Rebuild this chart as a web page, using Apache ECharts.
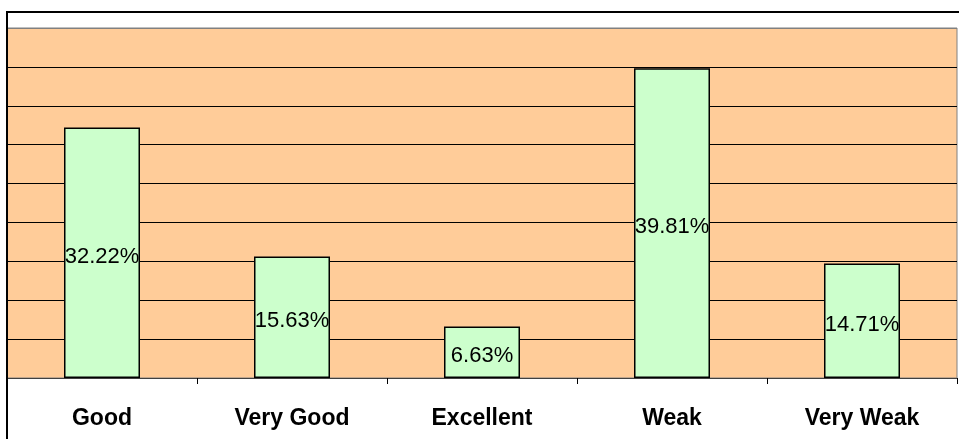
<!DOCTYPE html>
<html>
<head>
<meta charset="utf-8">
<script src="https://cdn.jsdelivr.net/npm/echarts@6/dist/echarts.min.js"></script>
<style>
  html, body { margin: 0; padding: 0; background: #fff; }
  #chart { width: 959px; height: 439px; }
</style>
</head>
<body>
<div id="chart"></div>
<script>
// data
const categories = ["Good", "Very Good", "Excellent", "Weak", "Very Weak"];
const percentValues = [32.22, 15.63, 6.63, 39.81, 14.71];

const chart = echarts.init(document.getElementById("chart"));

// black grid lines, the top one (at max) is gray like the plot border
const splitColors = ["#000", "#000", "#000", "#000", "#000", "#000", "#000", "#000", "#000", "#808080"];

const option = {
  animation: false,
  textStyle: { fontFamily: "Liberation Sans, Arial, sans-serif" },
  grid: {
    left: 7,
    right: 2,
    top: 28,
    bottom: 61,
    show: true,
    backgroundColor: "#FFCC99",
    borderColor: "#808080",
    borderWidth: 1
  },
  xAxis: {
    type: "category",
    data: categories,
    axisLine: { lineStyle: { color: "#404040", width: 1 } },
    axisTick: { show: true, length: 6, lineStyle: { color: "#000" } },
    axisLabel: {
      margin: 29,
      color: "#000",
      fontSize: 23,
      fontWeight: "bold",
      fontFamily: "Liberation Sans, Arial, sans-serif"
    }
  },
  yAxis: {
    type: "value",
    min: 0,
    max: 45,
    interval: 5,
    axisLabel: { show: false },
    axisLine: { show: false },
    axisTick: { show: false },
    splitLine: { show: true, lineStyle: { color: splitColors, width: 1 } }
  },
  series: [
    {
      type: "bar",
      data: percentValues,
      barWidth: "40%",
      itemStyle: { color: "#CCFFCC", borderColor: "#000", borderWidth: 1.5 },
      label: {
        show: true,
        position: "inside",
        offset: [0, 4],
        color: "#000",
        fontSize: 22,
        fontFamily: "Liberation Sans, Arial, sans-serif",
        formatter: "{c}%"
      }
    }
  ],
  graphic: [
    {
      type: "rect",
      shape: { x: 7, y: 12, width: 1000, height: 1000 },
      style: { fill: "none", stroke: "#000", lineWidth: 2 },
      z: 100
    }
  ]
};

chart.setOption(option);
</script>
</body>
</html>
